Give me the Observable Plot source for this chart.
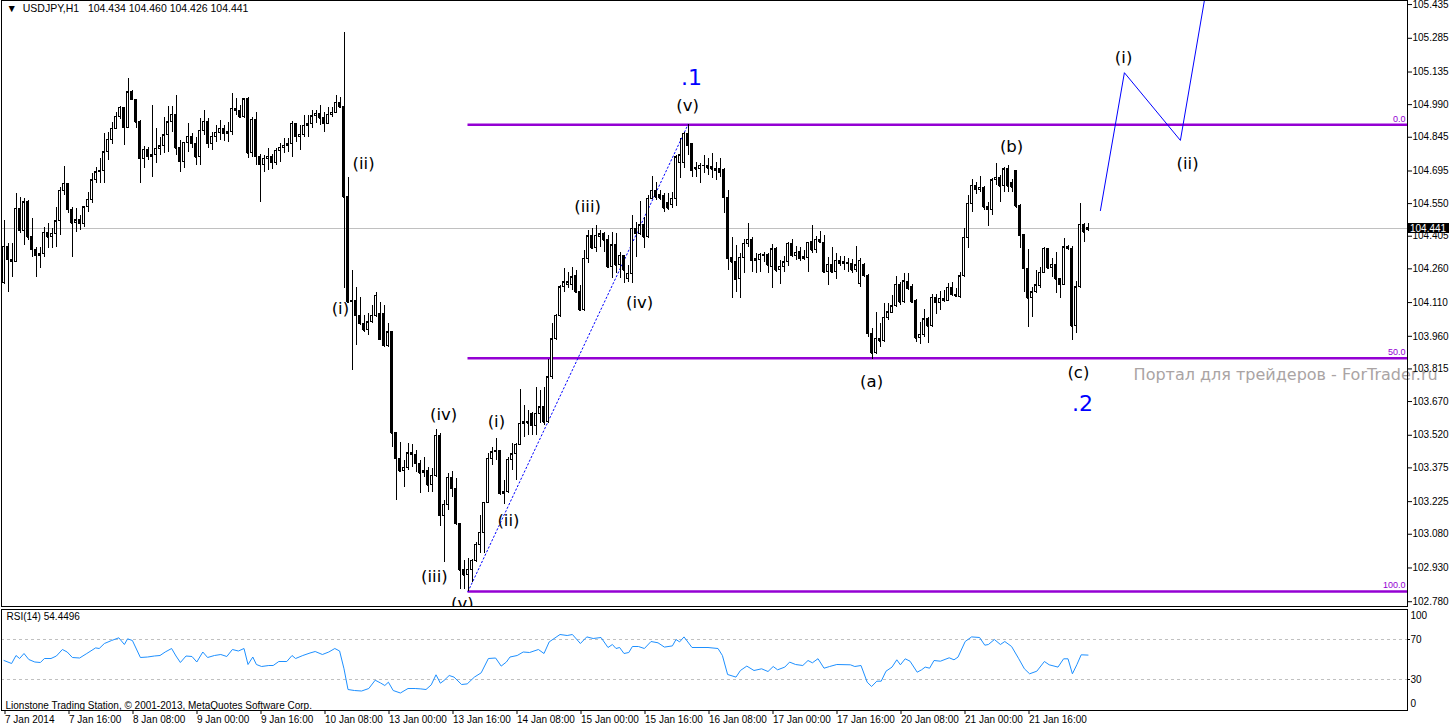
<!DOCTYPE html>
<html><head><meta charset="utf-8">
<script src="https://cdn.jsdelivr.net/npm/d3@7"></script>
<script src="https://cdn.jsdelivr.net/npm/@observablehq/plot@0.6"></script>
<style>
body{margin:0;background:#fff;}
#chart{position:relative;width:1449px;height:728px;overflow:hidden;background:#fff;}
#chart svg{display:block;}
</style></head><body><div id="chart"></div>
<script>
// ---------- data: USDJPY H1 candles (bar 0 = 7 Jan 2014 00:00) ----------
const open = [
104.196,104.359,104.300,104.291,104.527,104.430,104.555,104.401,104.345,104.319,
104.324,104.420,104.401,104.416,104.472,104.608,104.638,104.522,104.463,104.475,
104.460,104.534,104.567,104.653,104.690,104.693,104.779,104.834,104.883,104.937,
104.976,104.887,105.044,105.012,104.912,104.749,104.789,104.759,104.764,104.794,
104.805,104.853,104.912,104.946,104.796,104.737,104.820,104.848,104.816,104.756,
104.875,104.915,104.816,104.848,104.865,104.883,104.860,104.868,104.971,104.963,
104.934,105.013,104.774,104.923,104.759,104.723,104.749,104.759,104.731,104.786,
104.798,104.808,104.813,104.905,104.848,104.857,104.897,104.902,104.939,104.949,
104.930,104.905,104.945,104.954,104.998,104.979,104.578,104.112,104.119,104.052,
104.016,103.986,104.023,104.052,104.060,104.060,103.919,103.978,103.529,103.415,
103.360,103.375,103.434,103.434,103.393,103.351,103.359,103.297,103.341,103.519,
103.163,103.212,103.331,103.282,103.126,102.919,102.897,102.922,102.963,103.033,
103.086,103.220,103.415,103.445,103.449,103.260,103.266,103.412,103.435,103.478,
103.571,103.578,103.616,103.563,103.616,103.645,103.578,103.778,103.946,104.052,
104.178,104.186,104.186,104.230,104.156,104.075,104.305,104.405,104.352,104.401,
104.416,104.390,104.267,104.364,104.275,104.319,104.216,104.238,104.438,104.416,
104.453,104.401,104.571,104.608,104.590,104.586,104.553,104.545,104.571,104.731,
104.731,104.860,104.816,104.708,104.705,104.716,104.716,104.712,104.705,104.705,
104.700,104.576,104.309,104.289,104.216,104.309,104.371,104.389,104.297,104.301,
104.322,104.322,104.270,104.346,104.253,104.270,104.289,104.371,104.316,104.334,
104.305,104.307,104.378,104.342,104.390,104.374,104.245,104.279,104.245,104.293,
104.289,104.282,104.282,104.253,104.193,104.275,104.230,103.971,103.885,103.949,
103.938,104.042,104.063,104.094,104.189,104.112,104.201,104.181,104.119,103.952,
103.964,104.035,104.005,104.131,104.109,104.127,104.119,104.176,104.145,104.134,
104.227,104.398,104.549,104.630,104.611,104.620,104.537,104.522,104.653,104.665,
104.627,104.702,104.642,104.693,104.538,104.412,104.260,104.129,104.156,104.183,
104.242,104.349,104.263,104.279,104.213,104.189,104.356,104.349,104.005,104.178,
104.457,104.434];
const high = [
104.475,104.374,104.371,104.596,104.578,104.573,104.564,104.482,104.356,104.356,
104.442,104.460,104.438,104.534,104.623,104.715,104.640,104.534,104.527,104.497,
104.537,104.601,104.682,104.712,104.749,104.860,104.868,104.912,104.956,104.982,
104.979,105.105,105.053,105.012,104.920,104.805,104.801,104.986,104.883,104.845,
104.934,104.982,104.982,105.031,104.831,104.823,104.905,104.860,104.845,104.927,
104.964,104.927,104.868,104.897,104.920,104.897,104.912,105.038,105.016,104.986,
105.013,105.020,104.934,104.954,104.768,104.764,104.794,104.767,104.794,104.816,
104.838,104.838,104.915,104.905,104.897,104.942,104.942,104.964,104.964,104.986,
104.956,104.979,104.979,105.031,105.023,105.312,104.667,104.253,104.178,104.134,
104.052,104.060,104.097,104.156,104.112,104.097,104.016,103.978,103.534,103.489,
103.408,103.482,103.479,103.452,103.408,103.423,103.378,103.371,103.544,103.527,
103.230,103.349,103.360,103.326,103.126,102.963,102.971,102.966,103.045,103.163,
103.222,103.438,103.467,103.504,103.449,103.319,103.420,103.482,103.485,103.722,
103.652,103.630,103.623,103.734,103.719,103.731,103.856,104.017,104.056,104.186,
104.260,104.245,104.267,104.253,104.186,104.342,104.430,104.438,104.453,104.430,
104.423,104.408,104.423,104.416,104.334,104.319,104.275,104.497,104.467,104.559,
104.490,104.586,104.672,104.645,104.608,104.594,104.594,104.601,104.764,104.838,
104.865,104.901,104.816,104.734,104.727,104.764,104.749,104.771,104.734,104.749,
104.705,104.608,104.401,104.364,104.327,104.389,104.463,104.401,104.327,104.330,
104.334,104.327,104.368,104.353,104.297,104.315,104.378,104.389,104.359,104.356,
104.342,104.378,104.453,104.404,104.427,104.408,104.312,104.353,104.327,104.315,
104.315,104.305,104.300,104.359,104.305,104.282,104.233,103.993,104.067,104.016,
104.105,104.107,104.141,104.226,104.201,104.238,104.238,104.189,104.124,104.023,
104.079,104.045,104.145,104.145,104.159,104.164,104.193,104.201,104.171,104.242,
104.438,104.586,104.657,104.645,104.672,104.627,104.556,104.660,104.727,104.675,
104.712,104.719,104.657,104.697,104.545,104.412,104.346,104.178,104.253,104.267,
104.356,104.352,104.307,104.334,104.218,104.393,104.364,104.361,104.204,104.549,
104.460,104.460];
const low = [
104.190,104.156,104.220,104.288,104.416,104.364,104.386,104.312,104.223,104.260,
104.309,104.349,104.349,104.356,104.408,104.586,104.505,104.309,104.423,104.430,
104.445,104.512,104.549,104.638,104.638,104.641,104.742,104.813,104.878,104.925,
104.808,104.883,105.008,104.883,104.641,104.705,104.742,104.667,104.727,104.764,
104.771,104.779,104.868,104.764,104.690,104.705,104.779,104.794,104.719,104.719,
104.853,104.794,104.786,104.823,104.831,104.826,104.823,104.853,104.942,104.927,
104.927,104.752,104.756,104.719,104.554,104.690,104.697,104.702,104.719,104.731,
104.771,104.779,104.756,104.823,104.786,104.845,104.845,104.883,104.905,104.897,
104.868,104.905,104.934,104.949,104.971,104.173,104.106,103.808,103.919,104.008,
103.978,103.964,104.016,104.045,103.941,103.912,103.912,103.467,103.230,103.356,
103.289,103.363,103.378,103.356,103.262,103.334,103.264,103.267,103.334,103.114,
102.956,103.186,103.245,103.119,102.833,102.835,102.825,102.867,102.956,102.993,
102.993,103.215,103.386,103.408,103.252,103.212,103.260,103.363,103.319,103.475,
103.511,103.519,103.519,103.519,103.571,103.563,103.571,103.770,103.941,104.045,
104.156,104.171,104.164,104.149,104.070,104.070,104.282,104.349,104.334,104.356,
104.334,104.260,104.216,104.238,104.216,104.193,104.201,104.193,104.312,104.408,
104.349,104.396,104.568,104.564,104.564,104.512,104.519,104.530,104.538,104.660,
104.705,104.764,104.667,104.667,104.638,104.682,104.675,104.660,104.653,104.667,
104.505,104.253,104.127,104.156,104.127,104.238,104.356,104.245,104.238,104.245,
104.289,104.238,104.171,104.245,104.190,104.245,104.270,104.312,104.297,104.294,
104.297,104.245,104.327,104.330,104.371,104.238,104.186,104.241,104.211,104.270,
104.253,104.245,104.238,104.245,104.178,104.223,103.956,103.857,103.879,103.912,
103.934,104.030,104.060,104.090,104.097,104.105,104.164,104.105,103.934,103.922,
103.956,103.927,104.000,104.056,104.075,104.112,104.115,104.138,104.134,104.129,
104.223,104.352,104.512,104.589,104.601,104.519,104.450,104.497,104.630,104.554,
104.598,104.601,104.601,104.530,104.349,104.156,103.998,104.045,104.149,104.171,
104.238,104.260,104.223,104.149,104.129,104.186,104.342,103.941,103.971,104.174,
104.376,104.426];
const close = [
104.359,104.300,104.291,104.527,104.430,104.555,104.401,104.345,104.319,104.324,
104.420,104.401,104.416,104.472,104.608,104.638,104.522,104.463,104.475,104.460,
104.534,104.567,104.653,104.690,104.693,104.779,104.834,104.883,104.937,104.976,
104.887,105.044,105.012,104.912,104.749,104.789,104.759,104.764,104.794,104.805,
104.853,104.912,104.946,104.796,104.737,104.820,104.848,104.816,104.756,104.875,
104.915,104.816,104.848,104.865,104.883,104.860,104.868,104.971,104.963,104.934,
105.013,104.774,104.923,104.759,104.723,104.749,104.759,104.731,104.786,104.798,
104.808,104.813,104.905,104.848,104.857,104.897,104.902,104.939,104.949,104.930,
104.905,104.945,104.954,104.998,104.979,104.578,104.112,104.119,104.052,104.016,
103.986,104.023,104.052,104.141,103.944,103.919,103.978,103.529,103.415,103.360,
103.375,103.440,103.440,103.393,103.351,103.359,103.297,103.341,103.519,103.163,
103.212,103.331,103.282,103.126,102.919,102.897,102.922,102.963,103.033,103.086,
103.220,103.415,103.445,103.449,103.260,103.266,103.412,103.435,103.478,103.571,
103.578,103.574,103.563,103.616,103.645,103.578,103.778,103.946,104.052,104.178,
104.201,104.201,104.223,104.156,104.075,104.305,104.405,104.352,104.408,104.413,
104.386,104.267,104.364,104.275,104.319,104.253,104.238,104.438,104.416,104.453,
104.401,104.571,104.608,104.578,104.574,104.530,104.530,104.571,104.756,104.764,
104.860,104.808,104.697,104.702,104.719,104.719,104.707,104.702,104.697,104.687,
104.576,104.305,104.289,104.211,104.309,104.371,104.389,104.297,104.303,104.322,
104.319,104.275,104.346,104.253,104.270,104.289,104.371,104.319,104.331,104.305,
104.311,104.376,104.342,104.390,104.378,104.245,104.279,104.245,104.297,104.282,
104.282,104.286,104.253,104.275,104.297,104.230,103.971,103.885,103.949,103.938,
104.042,104.067,104.094,104.189,104.112,104.204,104.171,104.112,103.952,103.968,
104.035,104.005,104.131,104.109,104.127,104.119,104.176,104.145,104.138,104.227,
104.398,104.549,104.630,104.611,104.620,104.534,104.522,104.653,104.665,104.627,
104.702,104.627,104.623,104.538,104.408,104.260,104.129,104.156,104.186,104.242,
104.349,104.263,104.279,104.213,104.189,104.356,104.349,104.005,104.178,104.457,
104.423,104.441];

// RSI(14) read at its turning points (bar index, value)
const rsiBar = [0,1.9,3,3.9,5,6.2,7.7,9.1,10.1,11.75,13.1,14.6,15.8,17.1,18.9,20.7,22.9,23.8,25.1,26.9,
28.7,30.1,30.9,32.1,34.1,35.9,37.6,39,40.3,41.9,43,44.1,45.5,47,48.2,49.7,50.9,52.6,54.2,55.7,
57.1,58.6,60,61,62.2,63.1,64.4,66.2,67.3,68.7,70.7,72,72.9,74.7,76.5,77.8,79.6,81.2,82.7,83.9,
85,86,87.6,89.4,91.2,92.8,94.1,95.2,96.1,97.3,99.1,101,102.8,104.2,105.5,106.8,108,109.1,110,111.3,
112.5,114.4,115.8,117.6,119.3,121.1,122.9,124.3,125.6,126.5,128.3,129.8,131.4,133.6,135,136.3,139,140.8,142.1,144.1,
145.7,147.3,149.25,151,152.1,153,153.9,155,156.2,157.1,158.6,160.1,161.75,163.5,165.1,167.1,168,168.9,170,172,
176,178.5,179.6,180.9,183,184.1,185.7,187.5,189.4,191,192.3,193.4,195.2,196.4,197.9,199.7,201,202.1,203.5,205,
206.4,208.2,211.6,212.7,214.25,215.8,216.9,218.2,219.3,220.5,222,223.2,224.1,225.3,226.5,228.3,229.4,230.3,231.4,232.5,
234.1,236.3,237.5,238.5,240.3,241.9,243.9,245.2,246.1,247.6,249.1,250.2,251.9,253.7,255.1,256.4,258.2,260.1,261.3,263.5,
264.9,266,267.1,268.2,269.3,271];
const rsiVal = [49,46,54,51,56,50,47.5,47,51,51,53.5,60,57.5,52,51.5,56,61.6,61,66,69,
71.7,65,70.7,69,52,52.5,53.5,54,57.5,61,53.5,47,53.5,53,47.5,57.5,52,54,55,53,
60,58.5,61,45,52.5,45,43,44,44,48,48,54,51,54,56.5,58,55,57.5,61,58.5,
40.7,20,19,18.5,21,29.3,26.6,24,27.3,19,16.5,21,21,20.6,20,24.6,34.7,26.3,29,34,
32.4,25,25.6,32.4,36.7,51,51.5,43.4,47.5,52.5,54,57.5,57,60,56,67.6,75,74,75,66,
72.6,71,72,62,65,61,62,56,57,63,63,61,68,66.7,62.4,63.6,70,67.6,72.6,62,
62,61,54,35,32.4,39,43.4,39,40.7,38,43,39.7,42.4,47.4,45,44,49,46.7,50.8,41.3,
43,45,44.7,43,44,27.3,23,28.3,28.3,38.3,42.4,49.7,44.7,50.7,48.3,37.3,39.7,42.4,41.3,49,
48.3,51.7,49.7,52.4,68,72.6,72,64.3,65,70,65,68,63,50.7,40.7,35.7,38.3,48,44.7,42.4,
50.7,50.7,35.7,44.7,54.7,54.4];
const rsiLast = 54.4496;
const rsiLevels = [30, 70];

// axes
const priceTicks = [105.435,105.285,105.135,104.990,104.845,104.695,104.550,104.405,104.260,104.110,
  103.960,103.815,103.670,103.520,103.375,103.225,103.080,102.930,102.780];
const timeTickBars = [0,16,32,48,64,80,96,112,128,144,160,176,192,208,224,240,256];
const timeTickLabels = ["7 Jan 2014","7 Jan 16:00","8 Jan 08:00","9 Jan 00:00","9 Jan 16:00","10 Jan 08:00",
  "13 Jan 00:00","13 Jan 16:00","14 Jan 08:00","15 Jan 00:00","15 Jan 16:00","16 Jan 08:00","17 Jan 00:00",
  "17 Jan 16:00","20 Jan 08:00","21 Jan 00:00","21 Jan 16:00"];

// Fibonacci retracement anchors (low bar -> high bar)
const fibStartBar = 116, fibEndBar = 171;
const fibLevels = [0, 50, 100];

// Elliott wave annotations (bar, price)
const waveText  = ["(v)","(iii)","(iv)","(b)","(a)","(c)","(ii)","(i)","(iv)","(i)","(ii)","(iii)","(v)","(i)","(ii)"];
const waveBar   = [170.9,145.9,158.9,251.9,216.9,268.6,89.9,84.1,109.9,123.1,126.1,107.6,114.6,279.9,295.9];
const wavePrice = [104.983,104.537,104.110,104.804,103.759,103.799,104.728,104.084,103.612,103.581,103.141,102.892,102.772,105.200,104.728];
const degreeText  = [".1", ".2"];
const degreeBar   = [171.9, 269.6];
const degreePrice = [105.107, 103.661];

// projected path
const projBar   = [274.1, 280.1, 294.1, 300.1];
const projPrice = [104.519, 105.132, 104.831, 105.453];

const symbol = "USDJPY,H1";
const watermark = "Портал для трейдеров - ForTrader.ru";
const wmBar = 282.4, wmPrice = 103.790;
const footer = "Lionstone Trading Station, © 2001-2013, MetaQuotes Software Corp.";

// ---------- build ----------
const N = close.length, last = N - 1;
const bars = close.map((c, i) => ({i, o: open[i], h: high[i], l: low[i], c, up: c >= open[i]}));
const xMax = 350.875;
const X = {domain: [-0.875, xMax], range: [0, 1407]};
const fibHigh = high[fibEndBar], fibLow = low[fibStartBar];
const fibPrices = fibLevels.map(l => fibHigh - (fibHigh - fibLow) * l / 100);
const lastPrice = close[last];
const waves = waveText.map((t, k) => ({t, b: waveBar[k], p: wavePrice[k]}));
const degrees = degreeText.map((t, k) => ({t, b: degreeBar[k], p: degreePrice[k]}));
const proj = projBar.map((b, k) => ({b, p: projPrice[k]}));
const trend = [{b: fibStartBar, p: fibLow}, {b: fibEndBar, p: fibHigh}];
const rsiPts = rsiBar.map((b, k) => ({b, v: rsiVal[k]}));
const FONT = "'Liberation Sans', Arial, sans-serif";
const WFONT = "'DejaVu Sans', Verdana, sans-serif";
const NB = "\u00a0";
const header = "\u25BC" + NB + NB + symbol + NB + NB + NB + [open[last], high[last], low[last], close[last]].map(v => v.toFixed(3)).join(NB);

const main = Plot.plot({
  width: 1449, height: 607,
  marginTop: 0, marginBottom: 1, marginLeft: 1, marginRight: 42,
  x: {...X, axis: null},
  y: {domain: [102.7543, 105.453], range: [607, 0]},
  style: {fontFamily: FONT, fontSize: "10px", color: "#000", background: "#fff"},
  marks: [
    Plot.ruleY([lastPrice], {stroke: "#c0c0c0", shapeRendering: "crispEdges"}),
    Plot.ruleY(fibPrices, {x1: fibStartBar, x2: xMax, stroke: "#9400d3", strokeWidth: 2.5}),
    Plot.text(fibLevels, {x: xMax, y: (d, k) => fibPrices[k], text: d => d.toFixed(1), textAnchor: "end", dx: -2, dy: -6, fill: "#9400d3", fontSize: 9}),
    Plot.line(trend, {x: "b", y: "p", stroke: "#0000ff", strokeWidth: 1, strokeDasharray: "1.5,2.5"}),
    Plot.ruleX(bars, {x: "i", y1: "l", y2: "h", stroke: "#000", shapeRendering: "crispEdges"}),
    Plot.rect(bars, {x1: d => d.i - 0.25, x2: d => d.i + 0.25, y1: "o", y2: "c", fill: d => d.up ? "#fff" : "#000", stroke: "#000", shapeRendering: "crispEdges"}),
    Plot.ruleY(bars, {x1: d => d.i - 0.25, x2: d => d.i + 0.25, y: "c", stroke: "#000", shapeRendering: "crispEdges"}),
    Plot.line(proj, {x: "b", y: "p", stroke: "#0000ff", strokeWidth: 1, clip: true}),
    Plot.text(waves, {x: "b", y: "p", text: "t", fontFamily: WFONT, fontSize: 16.5, fill: "#000", clip: true}),
    Plot.text(degrees, {x: "b", y: "p", text: "t", fontFamily: WFONT, fontSize: 22, fill: "#0000ff"}),
    Plot.text([watermark], {x: wmBar, y: wmPrice, textAnchor: "start", fontFamily: WFONT, fontSize: 16, fill: "#aaa4a4"}),
    Plot.text([header], {frameAnchor: "top-left", textAnchor: "start", lineAnchor: "top", dx: 5, dy: 4, fontSize: 10.5, fill: "#000"}),
    Plot.axisY({ticks: priceTicks, anchor: "right", label: null, tickSize: 4, tickPadding: 1, tickFormat: d => d.toFixed(3)}),
    Plot.frame({stroke: "#000", shapeRendering: "crispEdges"})
  ]
});

const tickMap = new Map(timeTickBars.map((b, k) => [b, timeTickLabels[k]]));
const rsi = Plot.plot({
  width: 1449, height: 121,
  marginTop: 2, marginBottom: 18, marginLeft: 1, marginRight: 42,
  x: X,
  y: {domain: [0, 100], range: [102, 2]},
  style: {fontFamily: FONT, fontSize: "10px", color: "#000", background: "#fff"},
  marks: [
    Plot.ruleY(rsiLevels, {stroke: "#c0c0c0", strokeDasharray: "3,3", shapeRendering: "crispEdges"}),
    Plot.line(rsiPts, {x: "b", y: "v", stroke: "#1e90ff", strokeWidth: 1}),
    Plot.axisY({ticks: rsiLevels, anchor: "right", label: null, tickSize: 2, tickPadding: 1, tickFormat: d => String(d)}),
    Plot.text([100], {frameAnchor: "right", y: d => d, text: d => String(d), textAnchor: "start", dx: 3, dy: 6}),
    Plot.text([0], {frameAnchor: "right", y: d => d, text: d => String(d), textAnchor: "start", dx: 3, dy: -6}),
    Plot.axisX({ticks: timeTickBars, label: null, tickFormat: d => tickMap.get(d), tickSize: 4, tickPadding: 1, textAnchor: "start", dx: 1}),
    Plot.text([`RSI(14) ${rsiLast}`], {frameAnchor: "top-left", textAnchor: "start", lineAnchor: "top", dx: 5, dy: 3, fill: "#000"}),
    Plot.text([footer], {frameAnchor: "bottom-left", textAnchor: "start", lineAnchor: "bottom", dx: 4, dy: -2, fill: "#000"}),
    Plot.frame({stroke: "#000", shapeRendering: "crispEdges"})
  ]
});

// current price tag on the price scale
const yLast = Math.round(main.scale("y").apply(lastPrice));
const tag = d3.select(main).append("g");
tag.append("rect").attr("x", 1407).attr("y", yLast - 5).attr("width", 42).attr("height", 10).attr("fill", "#000");
tag.append("text").attr("x", 1410).attr("y", yLast + 4).attr("fill", "#fff").attr("text-anchor", "start")
  .attr("font-family", FONT).attr("font-size", 10).text(lastPrice.toFixed(3));

const host = document.getElementById("chart");
host.appendChild(main);
host.appendChild(rsi);
</script>
</body></html>
